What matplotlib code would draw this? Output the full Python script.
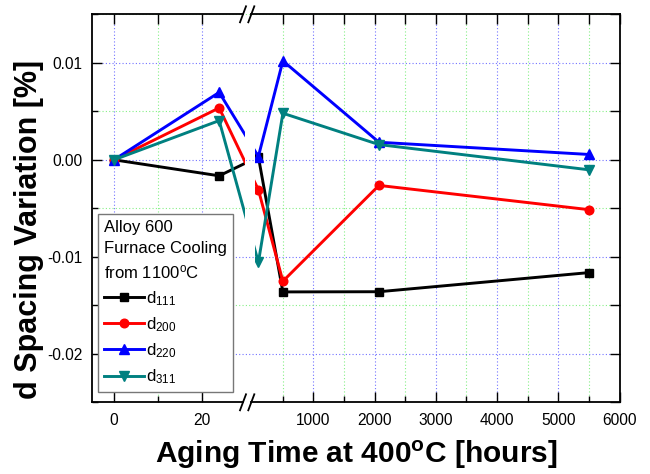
import numpy as np
import matplotlib
matplotlib.use('Agg')
import matplotlib.pyplot as plt
from matplotlib.ticker import FixedLocator, FixedFormatter, MultipleLocator, FormatStrFormatter
from matplotlib.lines import Line2D
from matplotlib.patches import Rectangle

# ---------------- data ----------------
hours = [0, 24, 100, 500, 2070, 5500]
d111 = [0.0, -0.00165, 0.0003, -0.01362, -0.0136, -0.01163]
d200 = [0.0, 0.00535, -0.00309, -0.01252, -0.00264, -0.00514]
d220 = [0.0, 0.00695, 0.00034, 0.0102, 0.00181, 0.00055]
d311 = [0.0, 0.00404, -0.01057, 0.0048, 0.00157, -0.00103]

series_labels = [r'd$_{\mathregular{111}}$', r'd$_{\mathregular{200}}$',
                 r'd$_{\mathregular{220}}$', r'd$_{\mathregular{311}}$']
series_colors = ['#000000', '#ff0000', '#0000ff', '#008080']
series_markers = ['s', 'o', '^', 'v']
series_ms = [5.2, 6.2, 7.0, 7.0]

x_major = [0, 20, 1000, 2000, 3000, 4000, 5000, 6000]
x_major_labels = ['0', '20', '1000', '2000', '3000', '4000', '5000', '6000']
x_minor = [10, 500, 1500, 2500, 3500, 4500, 5500]

legend_title = 'Alloy 600\nFurnace Cooling\nfrom 1100$^{\\mathregular{o}}$C'
xlabel = r'Aging Time at 400$^{\mathbf{o}}$C [hours]'
ylabel = 'd Spacing Variation [%]'

# ---------------- style ----------------
plt.rcParams['font.family'] = ['Liberation Sans', 'DejaVu Sans']
plt.rcParams['mathtext.fontset'] = 'custom'
plt.rcParams['mathtext.rm'] = 'Liberation Sans'
plt.rcParams['mathtext.bf'] = 'Liberation Sans:bold'
plt.rcParams['mathtext.it'] = 'Liberation Sans:italic'
plt.rcParams['axes.unicode_minus'] = False

W, H = 650, 474
fig = plt.figure(figsize=(W / 100, H / 100), dpi=100)

# broken x-axis as a piecewise function scale (pixel units)
L0, LK = 114.0, 4.383      # left segment: pixel of 0 h, px per hour
R0, RK = 252.3, 0.06122    # right segment: pixel of 0 h, px per hour
BRK = 30.0
LEND = L0 + LK * BRK
RSTART = R0 + RK * BRK


def fwd(x):
    x = np.asarray(x, dtype=float)
    return np.where(x <= BRK, L0 + LK * x, R0 + RK * x)


def inv(p):
    p = np.asarray(p, dtype=float)
    return np.where(p <= LEND, (p - L0) / LK,
                    np.where(p < RSTART, BRK, (p - R0) / RK))


AX_L, AX_R, AX_T, AX_B = 92.1, 619.5, 14.3, 402.3
ax = fig.add_axes([AX_L / W, 1 - AX_B / H, (AX_R - AX_L) / W, (AX_B - AX_T) / H])


def fa(p):
    return (p - AX_L) / (AX_R - AX_L)


def setup_x(a):
    a.set_xscale('function', functions=(fwd, inv))
    a.set_xlim(-5, 6000)


setup_x(ax)
ax.set_ylim(-0.025, 0.015)

ax.xaxis.set_major_locator(FixedLocator(x_major))
ax.xaxis.set_major_formatter(FixedFormatter(x_major_labels))
ax.xaxis.set_minor_locator(FixedLocator(x_minor))
ax.xaxis.set_minor_formatter(FixedFormatter([''] * len(x_minor)))
ax.yaxis.set_major_locator(MultipleLocator(0.01))
ax.yaxis.set_minor_locator(MultipleLocator(0.005))
ax.yaxis.set_major_formatter(FormatStrFormatter('%.2f'))

ax.tick_params(which='both', direction='in', top=False, right=False,
               width=1.0, labelsize=11.2)
ax.tick_params(axis='x', which='both', pad=8)
ax.tick_params(axis='y', which='both', pad=7)
ax.tick_params(which='major', length=7)
ax.tick_params(which='minor', length=4)

ax.grid(which='major', color='#7373ff', linestyle=(0, (1, 2)), linewidth=0.8)
ax.grid(which='minor', color='#86f086', linestyle=(0, (1, 2)), linewidth=0.8)
ax.set_axisbelow(True)

for s in ['top', 'bottom']:
    ax.spines[s].set_visible(False)
for s in ['left', 'right']:
    ax.spines[s].set_linewidth(1.3)

# top ticks (all long, inward)
axT = ax.twiny()
setup_x(axT)
axT.xaxis.set_major_locator(FixedLocator(sorted(x_major + x_minor)))
axT.tick_params(axis='x', which='both', direction='in', top=True, bottom=False,
                labeltop=False, labelbottom=False, length=7, width=1.0)
for s in axT.spines.values():
    s.set_visible(False)

# right ticks (all long, inward)
axR = ax.twinx()
axR.set_ylim(-0.025, 0.015)
axR.yaxis.set_major_locator(MultipleLocator(0.005))
axR.tick_params(axis='y', which='both', direction='in', right=True, left=False,
                labelright=False, labelleft=False, length=7, width=1.0)
for s in axR.spines.values():
    s.set_visible(False)

# data lines, clipped so they leave a gap at the axis break
clip_left = Rectangle((0, 0), fa(LEND), 1, transform=ax.transAxes)
clip_right = Rectangle((fa(254.5), 0), 1 - fa(254.5), 1, transform=ax.transAxes)
all_series = [d111, d200, d220, d311]
handles = []
for vals, c, m, ms, lab in zip(all_series, series_colors, series_markers, series_ms, series_labels):
    for clip in (clip_left, clip_right):
        ln, = ax.plot(hours, vals, color=c, lw=2.1, marker=m, ms=ms,
                      markeredgecolor=c, markeredgewidth=1.0, zorder=3)
        ln.set_clip_path(clip)
    handles.append(Line2D([], [], color=c, lw=2.1, marker=m, ms=ms,
                          markeredgecolor=c, markeredgewidth=1.0))

# top / bottom spines with break marks
sp_kw = dict(transform=ax.transAxes, color='black', lw=1.3, clip_on=False, zorder=10)
dy = 8.0 / (AX_B - AX_T)
c1, c2 = 243.0, 251.3
for yy in (0, 1):
    ax.add_line(Line2D([0, fa(c1)], [yy, yy], **sp_kw))
    ax.add_line(Line2D([fa(c2), 1], [yy, yy], **sp_kw))
    for c in (c1, c2):
        ax.add_line(Line2D([fa(c - 3), fa(c + 3)], [yy - dy, yy + dy], **sp_kw))

# legend
leg = ax.legend(handles, series_labels, title=legend_title, alignment='left',
                loc='lower left', bbox_to_anchor=(fa(98), (AX_B - 392.0) / (AX_B - AX_T)),
                borderaxespad=0, frameon=True, fancybox=False, framealpha=1,
                edgecolor='#777777', fontsize=12, title_fontsize=12,
                handlelength=2.4, handletextpad=0.15, borderpad=0.35,
                labelspacing=0.45)
leg.get_frame().set_linewidth(1.0)
leg.get_title().set_linespacing(1.5)
leg.set_zorder(20)

# axis labels
fig.text(29 / W, 1 - 229 / H, ylabel, rotation=90, ha='center', va='center',
         fontsize=22, fontweight='bold')
fig.text((AX_L + AX_R) / 2 / W, 1 - 463 / H, xlabel, ha='center', va='baseline',
         fontsize=21.5, fontweight='bold')

fig.savefig('out.png', dpi=100)
